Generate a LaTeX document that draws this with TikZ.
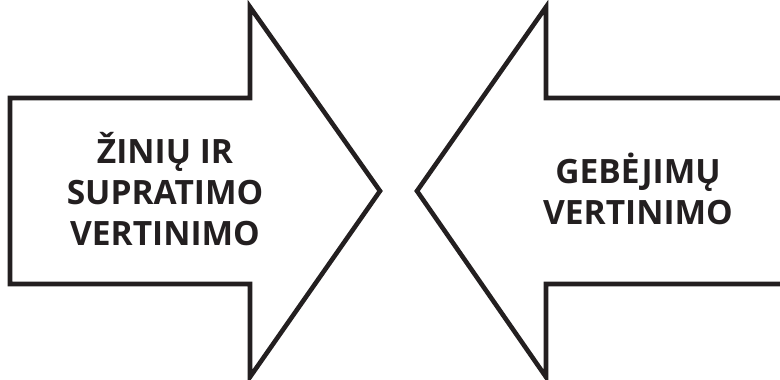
\documentclass[tikz,border=0pt]{standalone}
\usepackage{fontspec}
\setmainfont{Open Sans}
\definecolor{ink}{HTML}{231F20}
\tikzset{
  arrowshape/.style={draw=ink, line width=4.6pt, line join=miter},
  label/.style={font=\bfseries\fontsize{33.5}{41}\selectfont, text=ink, align=center, inner sep=0pt}
}
\begin{document}
\begin{tikzpicture}[x=1pt,y=-1pt]
\useasboundingbox (0,0) rectangle (780,380);
% left arrow
\coordinate (L1) at (10,98);
\coordinate (L2) at (250,98);
\coordinate (L3) at (250,7);
\coordinate (Ltip) at (380,191);
\coordinate (L5) at (250,377);
\coordinate (L6) at (250,284);
\coordinate (L7) at (10,284);
\draw[arrowshape] (L1) -- (L2) -- (L3) -- (Ltip) -- (L5) -- (L6) -- (L7) -- cycle;
% right arrow
\coordinate (R1) at (786,98);
\coordinate (R2) at (546,98);
\coordinate (R3) at (546,7);
\coordinate (Rtip) at (417,191);
\coordinate (R5) at (546,377);
\coordinate (R6) at (546,284);
\coordinate (R7) at (786,284);
\draw[arrowshape] (R1) -- (R2) -- (R3) -- (Rtip) -- (R5) -- (R6) -- (R7);
% texts
\node[label] (lt) at (165,189) {ŽINIŲ IR\\SUPRATIMO\\VERTINIMO};
\node[label] (rt) at (638,189) {GEBĖJIMŲ\\VERTINIMO};
\end{tikzpicture}
\end{document}
